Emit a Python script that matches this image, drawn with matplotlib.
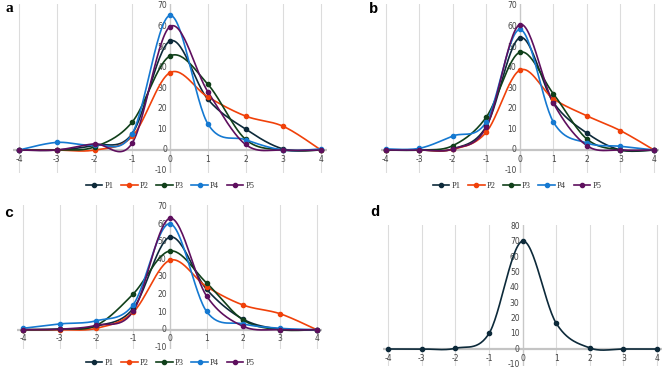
import numpy as np
import matplotlib
matplotlib.use("Agg")
import matplotlib.pyplot as plt
from matplotlib.lines import Line2D

x_vals = [-4, -3, -2, -1, 0, 1, 2, 3, 4]
series_names = ["P1", "P2", "P3", "P4", "P5"]
colors = ["#0d2a3a", "#f0410a", "#10401a", "#1579d1", "#5e0f5e"]

a_P1 = [0, 0, 2.3, 8, 53, 24.7, 10.2, 0.5, 0]
a_P2 = [0, 0, 0, 6.6, 37.6, 25.8, 16.5, 11.5, 0]
a_P3 = [0, 0, 1.5, 13.6, 45.7, 32, 5.2, 0, 0]
a_P4 = [0, 3.7, 2.5, 8, 65.4, 12.8, 5, 0, 0.5]
a_P5 = [0, 0, 3, 3.4, 60, 28.4, 2.7, 0, 0]

b_P1 = [0, 0, 0.5, 11.5, 54.6, 23.1, 8.2, 0, 0]
b_P2 = [0, 0, 0.3, 8.7, 38.8, 24.9, 16.6, 9.4, 0]
b_P3 = [0, 0, 2.1, 16, 47.5, 27.3, 5.3, 0, 0]
b_P4 = [0.5, 0.8, 6.8, 13.7, 58.6, 13.6, 3.4, 1.8, 0]
b_P5 = [0, 0, 0.5, 11.1, 61, 22.8, 2.1, 0, 0]

c_P1 = [0, 0.3, 2, 12, 52.7, 23, 5.9, 0.3, 0]
c_P2 = [0, 0, 0.8, 10, 39.5, 24.5, 14, 9.1, 0]
c_P3 = [0, 0.3, 2.5, 20.3, 44.8, 26.6, 5.5, 0, 0]
c_P4 = [0.8, 3.3, 5.1, 14.2, 60.3, 10.4, 3.3, 0.8, 0]
c_P5 = [0, 0.3, 2.5, 10.4, 63.4, 19.2, 1.9, 0, 0]

d_P1 = [0, 0, 0.5, 10.2, 70.6, 16.8, 0.7, 0, 0]

y_ticks_abc = [-10, 0, 10, 20, 30, 40, 50, 60, 70]
y_ticks_d = [-10, 0, 10, 20, 30, 40, 50, 60, 70, 80]

W, H = 669, 371
fig = plt.figure(figsize=(W / 100, H / 100), dpi=100)


def smooth(xs, ys, n=30):
    xs = np.asarray(xs, float)
    ys = np.asarray(ys, float)
    px = np.concatenate([[xs[0]], xs, [xs[-1]]])
    py = np.concatenate([[ys[0]], ys, [ys[-1]]])
    ox, oy = [], []
    t = np.linspace(0, 1, n)
    for i in range(1, len(px) - 2):
        p0 = np.array([px[i], py[i]])
        p3 = np.array([px[i + 1], py[i + 1]])
        c1 = p0 + (np.array([px[i + 1], py[i + 1]]) - np.array([px[i - 1], py[i - 1]])) / 6
        c2 = p3 - (np.array([px[i + 2], py[i + 2]]) - np.array([px[i], py[i]])) / 6
        b = ((1 - t) ** 3)[:, None] * p0 + (3 * (1 - t) ** 2 * t)[:, None] * c1 \
            + (3 * (1 - t) * t ** 2)[:, None] * c2 + (t ** 3)[:, None] * p3
        ox.extend(b[:, 0])
        oy.extend(b[:, 1])
    return ox, oy


def make_axes(x0, x1, y0px, y70px, yl, yticks, top_val):
    sx = (x1 - x0) / 8.0
    sy = (y0px - y70px) / float(top_val)
    xlim = (-4.15, 4.15)
    left = x0 + (xlim[0] + 4) * sx
    right = x0 + (xlim[1] + 4) * sx
    top = y0px - yl[1] * sy
    bottom = y0px - yl[0] * sy
    ax = fig.add_axes([left / W, 1 - bottom / H, (right - left) / W, (bottom - top) / H])
    ax.set_xlim(*xlim)
    ax.set_ylim(*yl)
    ax.axis("off")
    for xv in x_vals:
        if xv == 0:
            continue
        ax.axvline(xv, color="#dcdcdc", lw=0.8, zorder=0)
    ax.axvline(0, color="#c8c8c8", lw=1.0, zorder=0)
    ax.axhline(0, color="#c4c4c4", lw=1.6, zorder=0)
    for yv in yticks:
        ax.annotate(str(yv), (0, yv), xytext=(-3, 0), textcoords="offset pixels",
                    ha="right", va="center", fontsize=5.5, color="#444444",
                    family="DejaVu Sans")
    for xv in x_vals:
        ax.annotate(str(xv), (xv, 0), xytext=(0, -9), textcoords="offset pixels",
                    ha="center", va="center", fontsize=5.5, color="#444444",
                    family="DejaVu Sans")
    return ax


def draw_series(ax, data_list, cols):
    for ys, c in zip(data_list, cols):
        sx_, sy_ = smooth(x_vals, ys)
        ax.plot(sx_, sy_, color=c, lw=1.2, zorder=3, clip_on=False)
        ax.plot(x_vals, ys, "o", color=c, ms=3.0, zorder=4, clip_on=False)


def legend_at(cx, cy):
    handles = [Line2D([], [], color=c, lw=1.2, marker="o", ms=3.0) for c in colors]
    leg = fig.legend(handles, series_names, loc="center", bbox_to_anchor=(cx / W, 1 - cy / H),
                     ncol=5, frameon=False, prop={"family": "Liberation Serif", "size": 6},
                     handlelength=2.0, handletextpad=0.25, columnspacing=0.9, borderpad=0)
    for t in leg.get_texts():
        t.set_color("#333333")


# panel a
ax_a = make_axes(19, 321, 150, 6, (-11, 71), y_ticks_abc, 70)
draw_series(ax_a, [a_P1, a_P2, a_P3, a_P4, a_P5], colors)
legend_at(170, 186)

# panel b
ax_b = make_axes(385.7, 654, 150, 6, (-11, 71), y_ticks_abc, 70)
draw_series(ax_b, [b_P1, b_P2, b_P3, b_P4, b_P5], colors)
legend_at(517, 186)

# panel c
ax_c = make_axes(23, 316.7, 329.7, 206.7, (-11, 71), y_ticks_abc, 70)
draw_series(ax_c, [c_P1, c_P2, c_P3, c_P4, c_P5], colors)
legend_at(170, 363)

# panel d
ax_d = make_axes(388.3, 657, 349, 226.7, (-11, 81), y_ticks_d, 80)
draw_series(ax_d, [d_P1], [colors[0]])

fig.text(5 / W, 1 - 9 / H, "a", fontsize=11, fontweight="bold", family="Liberation Serif",
         ha="left", va="center")
fig.text(369 / W, 1 - 9 / H, "b", fontsize=11, fontweight="bold", family="Liberation Mono",
         ha="left", va="center")
fig.text(4 / W, 1 - 213 / H, "c", fontsize=11, fontweight="bold", family="Liberation Mono",
         ha="left", va="center")
fig.text(370 / W, 1 - 212 / H, "d", fontsize=11, fontweight="bold", family="Liberation Mono",
         ha="left", va="center")

fig.savefig("out.png", dpi=100)
